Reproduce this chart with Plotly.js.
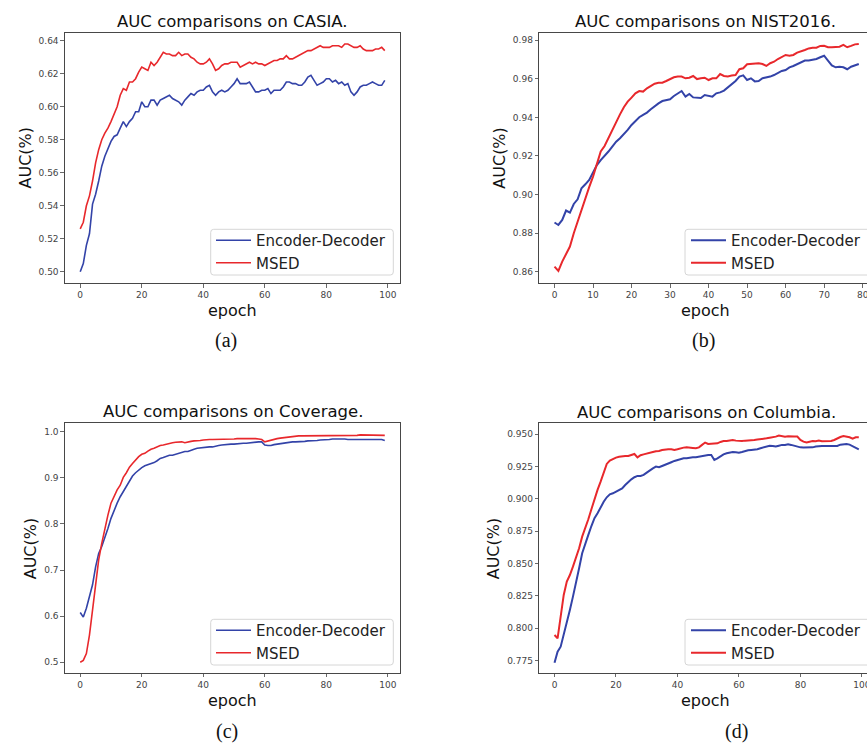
<!DOCTYPE html>
<html>
<head>
<meta charset="utf-8">
<script src="https://cdn.plot.ly/plotly-3.0.1.min.js"></script>
<style>
html,body{margin:0;padding:0;background:#fff;overflow:hidden;}
#wrap{width:867px;height:745px;overflow:hidden;position:relative;}
#chart{width:880px;height:745px;}
</style>
</head>
<body>
<div id="wrap"><div id="chart"></div></div>
<script>
// ---------------- data ----------------
const epochs100 = [0,1,2,3,4,5,6,7,8,9,10,11,12,13,14,15,16,17,18,19,20,21,22,23,24,25,26,27,28,29,30,31,32,33,34,35,36,37,38,39,40,41,42,43,44,45,46,47,48,49,50,51,52,53,54,55,56,57,58,59,60,61,62,63,64,65,66,67,68,69,70,71,72,73,74,75,76,77,78,79,80,81,82,83,84,85,86,87,88,89,90,91,92,93,94,95,96,97,98,99];
const epochs80 = [0,1,2,3,4,5,6,7,8,9,10,11,12,13,14,15,16,17,18,19,20,21,22,23,24,25,26,27,28,29,30,31,32,33,34,35,36,37,38,39,40,41,42,43,44,45,46,47,48,49,50,51,52,53,54,55,56,57,58,59,60,61,62,63,64,65,66,67,68,69,70,71,72,73,74,75,76,77,78,79];

const seriesNames = ["Encoder-Decoder", "MSED"];
const panelTitles = ["AUC comparisons on CASIA.", "AUC comparisons on NIST2016.", "AUC comparisons on Coverage.", "AUC comparisons on Columbia."];
const captions = ["(a)", "(b)", "(c)", "(d)"];

const casiaED = [0.500,0.505,0.516,0.523,0.541,0.547,0.555,0.564,0.570,0.575,
0.579,0.582,0.583,0.587,0.591,0.588,0.591,0.593,0.597,0.597,
0.603,0.600,0.600,0.604,0.604,0.601,0.604,0.605,0.606,0.607,
0.605,0.604,0.603,0.601,0.604,0.606,0.608,0.607,0.609,0.610,
0.610,0.612,0.613,0.609,0.607,0.609,0.610,0.609,0.610,0.612,
0.614,0.617,0.614,0.614,0.614,0.615,0.612,0.609,0.609,0.610,
0.610,0.611,0.608,0.610,0.610,0.610,0.612,0.615,0.615,0.614,
0.614,0.613,0.613,0.615,0.618,0.619,0.616,0.613,0.614,0.615,
0.617,0.617,0.615,0.616,0.614,0.615,0.613,0.614,0.609,0.607,
0.609,0.612,0.613,0.613,0.614,0.615,0.614,0.613,0.613,0.616];
const casiaMSED = [0.526,0.530,0.540,0.546,0.555,0.566,0.574,0.580,0.584,0.587,
0.591,0.595,0.600,0.607,0.611,0.610,0.615,0.615,0.617,0.621,
0.624,0.623,0.622,0.627,0.625,0.627,0.630,0.633,0.632,0.632,
0.631,0.631,0.633,0.631,0.632,0.632,0.630,0.629,0.627,0.626,
0.626,0.627,0.629,0.626,0.622,0.623,0.625,0.626,0.626,0.627,
0.627,0.627,0.624,0.625,0.626,0.627,0.626,0.627,0.626,0.626,
0.625,0.626,0.627,0.628,0.628,0.629,0.629,0.631,0.629,0.629,
0.630,0.631,0.632,0.633,0.634,0.634,0.635,0.636,0.637,0.636,
0.636,0.636,0.637,0.637,0.637,0.636,0.638,0.638,0.637,0.636,
0.636,0.637,0.635,0.634,0.634,0.634,0.635,0.635,0.636,0.634];

const nistED = [0.8855,0.8842,0.8868,0.8917,0.8906,0.8951,0.8975,0.9032,0.9053,0.9076,
0.9114,0.9153,0.9179,0.9200,0.9223,0.9249,0.9274,0.9292,0.9313,0.9335,
0.9361,0.9382,0.9401,0.9413,0.9425,0.9442,0.9459,0.9473,0.9485,0.9491,
0.9494,0.9511,0.9525,0.9537,0.9508,0.9522,0.9504,0.9501,0.9501,0.9516,
0.9511,0.9508,0.9525,0.9530,0.9539,0.9556,0.9574,0.9589,0.9612,0.9618,
0.9594,0.9603,0.9587,0.9589,0.9603,0.9606,0.9612,0.9620,0.9632,0.9641,
0.9646,0.9660,0.9667,0.9677,0.9689,0.9695,0.9695,0.9698,0.9703,0.9712,
0.9720,0.9695,0.9670,0.9660,0.9663,0.9660,0.9650,0.9663,0.9670,0.9677];
const nistMSED = [0.8626,0.8604,0.8652,0.8695,0.8730,0.8799,0.8860,0.8924,0.8981,0.9038,
0.9093,0.9162,0.9223,0.9252,0.9295,0.9335,0.9378,0.9416,0.9453,0.9482,
0.9503,0.9525,0.9537,0.9534,0.9551,0.9565,0.9575,0.9580,0.9580,0.9589,
0.9599,0.9608,0.9612,0.9612,0.9603,0.9606,0.9615,0.9599,0.9603,0.9606,
0.9594,0.9603,0.9603,0.9625,0.9615,0.9612,0.9617,0.9620,0.9650,0.9655,
0.9676,0.9677,0.9677,0.9681,0.9677,0.9667,0.9681,0.9689,0.9703,0.9715,
0.9724,0.9720,0.9724,0.9736,0.9745,0.9750,0.9758,0.9762,0.9762,0.9771,
0.9772,0.9764,0.9764,0.9764,0.9767,0.9776,0.9764,0.9771,0.9779,0.9781];

const coverageED = [0.608,0.598,0.617,0.642,0.668,0.707,0.736,0.751,0.769,0.790,
0.812,0.830,0.845,0.859,0.870,0.882,0.895,0.904,0.911,0.917,
0.922,0.926,0.928,0.930,0.933,0.937,0.942,0.944,0.947,0.949,
0.949,0.951,0.953,0.956,0.957,0.957,0.960,0.962,0.964,0.965,
0.965,0.966,0.967,0.967,0.969,0.970,0.971,0.972,0.973,0.973,
0.973,0.974,0.975,0.975,0.975,0.976,0.977,0.978,0.978,0.978,
0.971,0.970,0.970,0.972,0.973,0.975,0.975,0.976,0.977,0.978,
0.978,0.978,0.979,0.979,0.980,0.980,0.980,0.981,0.982,0.982,
0.983,0.983,0.984,0.984,0.985,0.985,0.984,0.983,0.983,0.983,
0.983,0.983,0.983,0.983,0.983,0.983,0.983,0.984,0.983,0.981];
const coverageMSED = [0.500,0.504,0.519,0.559,0.613,0.664,0.722,0.758,0.790,0.819,
0.845,0.861,0.874,0.884,0.901,0.911,0.923,0.931,0.939,0.946,
0.951,0.953,0.958,0.962,0.964,0.967,0.970,0.971,0.973,0.975,
0.976,0.977,0.977,0.978,0.976,0.978,0.979,0.980,0.980,0.981,
0.982,0.983,0.983,0.983,0.983,0.983,0.984,0.983,0.984,0.984,
0.984,0.985,0.985,0.985,0.986,0.986,0.986,0.985,0.984,0.983,
0.978,0.980,0.982,0.983,0.985,0.986,0.987,0.988,0.988,0.989,
0.990,0.991,0.991,0.991,0.991,0.991,0.991,0.991,0.991,0.991,
0.991,0.991,0.991,0.991,0.992,0.992,0.992,0.992,0.992,0.992,
0.992,0.993,0.993,0.993,0.993,0.993,0.993,0.993,0.993,0.992];

const columbiaED = [0.7734,0.7820,0.7858,0.7949,0.8039,0.8142,0.8245,0.8348,0.8464,0.8580,
0.8657,0.8722,0.8791,0.8851,0.8889,0.8936,0.8979,0.9013,0.9036,0.9044,
0.9057,0.9075,0.9082,0.9108,0.9134,0.9152,0.9168,0.9178,0.9178,0.9186,
0.9204,0.9224,0.9237,0.9250,0.9245,0.9255,0.9263,0.9271,0.9284,0.9294,
0.9302,0.9309,0.9314,0.9314,0.9320,0.9322,0.9322,0.9327,0.9332,0.9338,
0.9340,0.9340,0.9302,0.9314,0.9332,0.9345,0.9353,0.9361,0.9363,0.9361,
0.9358,0.9363,0.9371,0.9376,0.9379,0.9379,0.9384,0.9392,0.9399,0.9405,
0.9412,0.9410,0.9405,0.9412,0.9418,0.9418,0.9423,0.9418,0.9410,0.9405,
0.9399,0.9397,0.9397,0.9399,0.9399,0.9405,0.9410,0.9410,0.9410,0.9410,
0.9410,0.9407,0.9410,0.9420,0.9425,0.9425,0.9420,0.9410,0.9397,0.9384];
const columbiaMSED = [0.7948,0.7923,0.8090,0.8258,0.8361,0.8412,0.8477,0.8541,0.8619,0.8709,
0.8773,0.8843,0.8920,0.9005,0.9070,0.9134,0.9211,0.9271,0.9296,0.9309,
0.9320,0.9327,0.9332,0.9332,0.9332,0.9340,0.9348,0.9322,0.9338,0.9345,
0.9353,0.9358,0.9363,0.9369,0.9371,0.9379,0.9384,0.9384,0.9384,0.9379,
0.9384,0.9392,0.9397,0.9399,0.9399,0.9394,0.9392,0.9399,0.9418,0.9436,
0.9425,0.9425,0.9425,0.9430,0.9441,0.9448,0.9448,0.9451,0.9456,0.9451,
0.9448,0.9448,0.9451,0.9451,0.9456,0.9456,0.9459,0.9461,0.9464,0.9469,
0.9474,0.9477,0.9482,0.9490,0.9487,0.9482,0.9485,0.9482,0.9482,0.9482,
0.9456,0.9443,0.9436,0.9443,0.9448,0.9446,0.9451,0.9446,0.9448,0.9451,
0.9448,0.9456,0.9469,0.9479,0.9487,0.9482,0.9477,0.9466,0.9477,0.9477];

// ---------------- layout helpers ----------------
const W = 880, H = 745;           // plot canvas (the window shows the left 867 px)
const fx = p => p / W;
const fy = p => 1 - p / H;
const BLUE = '#3343a8', RED = '#e8282c';
const FONT = 'DejaVu Sans, sans-serif';
const SERIF = 'Liberation Serif, Times New Roman, serif';

const panels = [
  {x: epochs100, ed: casiaED, ms: casiaMSED, lw: 1.6},
  {x: epochs80, ed: nistED, ms: nistMSED, lw: 2},
  {x: epochs100, ed: coverageED, ms: coverageMSED, lw: 1.6},
  {x: epochs100, ed: columbiaED, ms: columbiaMSED, lw: 2}
];

const traces = [];
panels.forEach((p, i) => {
  const ax = i === 0 ? '' : String(i + 1);
  const lg = i === 0 ? 'legend' : 'legend' + (i + 1);
  traces.push({x: p.x, y: p.ed, type: 'scatter', mode: 'lines', name: seriesNames[0],
    line: {color: BLUE, width: p.lw}, xaxis: 'x' + ax, yaxis: 'y' + ax, legend: lg, hoverinfo: 'skip'});
  traces.push({x: p.x, y: p.ms, type: 'scatter', mode: 'lines', name: seriesNames[1],
    line: {color: RED, width: p.lw}, xaxis: 'x' + ax, yaxis: 'y' + ax, legend: lg, hoverinfo: 'skip'});
});

const axBase = {
  showline: true, linecolor: '#474747', linewidth: 1.1, mirror: true,
  showgrid: false, zeroline: false, ticks: 'outside', ticklen: 3.5, tickwidth: 0.8,
  tickcolor: '#444', tickfont: {family: FONT, size: 9, color: '#444'}, fixedrange: true
};
const ax = o => Object.assign({}, axBase, o);

const leftDom = [fx(65), fx(400)];
const rightDom = [fx(539.3), fx(874)];
const topDom = [fy(283), fy(33)];
const botDom = [fy(672.7), fy(423.3)];

const legBase = {
  xanchor: 'left', yanchor: 'top', bgcolor: 'rgba(0,0,0,0)', itemwidth: 35,
  borderwidth: 0, font: {family: FONT, size: 15, color: '#222'},
  xref: 'paper', yref: 'paper'
};
const leg = (x, y) => Object.assign({}, legBase, {x: fx(x), y: fy(y)});

// rounded legend frame drawn as a shape (paper coordinates)
function frame(x0, y0, x1, y1) {
  const r = 3, rx = r / W, ry = r / H;
  const X0 = fx(x0), X1 = fx(x1), Y0 = fy(y0), Y1 = fy(y1);
  const path = `M${X0 + rx},${Y0} L${X1 - rx},${Y0} Q${X1},${Y0} ${X1},${Y0 - ry} L${X1},${Y1 + ry} Q${X1},${Y1} ${X1 - rx},${Y1} L${X0 + rx},${Y1} Q${X0},${Y1} ${X0},${Y1 + ry} L${X0},${Y0 - ry} Q${X0},${Y0} ${X0 + rx},${Y0} Z`;
  return {type: 'path', path: path, xref: 'paper', yref: 'paper', layer: 'above',
    line: {color: '#d6d6d6', width: 1}, fillcolor: 'rgba(255,255,255,0.85)'};
}

const ann = (text, x, y, size, extra) => Object.assign({
  text: text, x: fx(x), y: fy(y), xref: 'paper', yref: 'paper', showarrow: false,
  xanchor: 'center', yanchor: 'middle', font: {family: FONT, size: size, color: '#111'}
}, extra || {});
const cap = (text, x, y) => ann(text, x, y, 20, {font: {family: SERIF, size: 20, color: '#111'}});

const layout = {
  width: W, height: H, margin: {l: 0, r: 0, t: 0, b: 0},
  paper_bgcolor: '#fff', plot_bgcolor: '#fff', showlegend: true,
  xaxis:  ax({domain: leftDom, range: [-4.95, 103.95], dtick: 20, tick0: 0, anchor: 'y'}),
  yaxis:  ax({domain: topDom, range: [0.4932, 0.6447], dtick: 0.02, tick0: 0.5, tickformat: '.2f', anchor: 'x'}),
  xaxis2: ax({domain: rightDom, range: [-3.95, 82.95], dtick: 10, tick0: 0, anchor: 'y2'}),
  yaxis2: ax({domain: topDom, range: [0.8541, 0.9838], dtick: 0.02, tick0: 0.86, tickformat: '.2f', anchor: 'x2'}),
  xaxis3: ax({domain: leftDom, range: [-4.95, 103.95], dtick: 20, tick0: 0, anchor: 'y3'}),
  yaxis3: ax({domain: botDom, range: [0.4774, 1.0182], dtick: 0.1, tick0: 0.5, tickformat: '.1f', anchor: 'x3'}),
  xaxis4: ax({domain: rightDom, range: [-4.95, 103.95], dtick: 20, tick0: 0, anchor: 'y4'}),
  yaxis4: ax({domain: botDom, range: [0.7657, 0.9585], dtick: 0.025, tick0: 0.775, tickformat: '.3f', anchor: 'x4'}),
  legend:  leg(211, 224),
  legend2: leg(686, 224),
  legend3: leg(211, 614),
  legend4: leg(686, 614),
  shapes: [
    frame(210.7, 229.3, 393.3, 275),
    frame(685, 229.3, 880, 275),
    frame(210.7, 619.3, 393.3, 665),
    frame(685, 619.3, 880, 665)
  ],
  annotations: [
    ann(panelTitles[0], 232.5, 21.7, 16.5),
    ann(panelTitles[1], 705.8, 21.7, 16.5),
    ann(panelTitles[2], 232.5, 411.7, 16.5),
    ann(panelTitles[3], 706, 412.3, 16.5),
    ann('AUC(%)', 25.5, 158, 16, {textangle: -90}),
    ann('AUC(%)', 499.7, 158, 16, {textangle: -90}),
    ann('AUC(%)', 30, 548.3, 16, {textangle: -90}),
    ann('AUC(%)', 493, 548.3, 16, {textangle: -90}),
    ann('epoch', 232.5, 310, 16),
    ann('epoch', 705.8, 310, 16),
    ann('epoch', 232.5, 700, 16),
    ann('epoch', 705.8, 700, 16),
    cap(captions[0], 226, 340),
    cap(captions[1], 703, 340),
    cap(captions[2], 226.7, 731.7),
    cap(captions[3], 736, 731.7)
  ]
};

Plotly.newPlot('chart', traces, layout, {staticPlot: true, displayModeBar: false});
</script>
</body>
</html>
